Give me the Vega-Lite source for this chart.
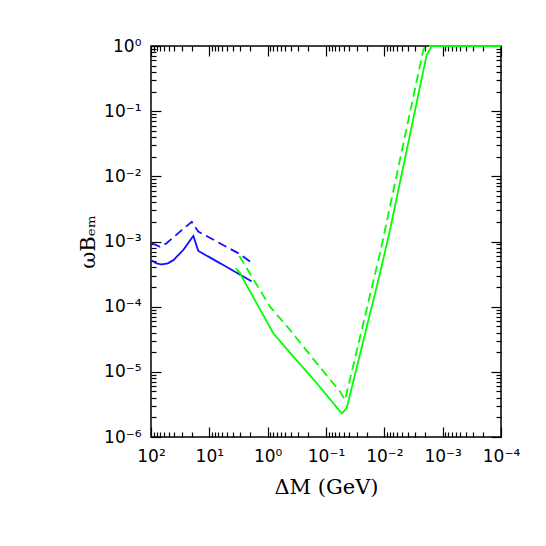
{
  "$schema": "https://vega.github.io/schema/vega-lite/v6.json",
  "autosize": "none",
  "width": 350,
  "height": 391,
  "padding": {"left": 151, "top": 46, "right": 45, "bottom": 109},
  "background": "white",
  "data": {
    "values": [
      {"curve": "bs", "grp": "blue", "dash": "solid", "dm": 97, "wb": 0.00051},
      {"curve": "bs", "grp": "blue", "dash": "solid", "dm": 80, "wb": 0.00046},
      {"curve": "bs", "grp": "blue", "dash": "solid", "dm": 66, "wb": 0.000445},
      {"curve": "bs", "grp": "blue", "dash": "solid", "dm": 52, "wb": 0.00046},
      {"curve": "bs", "grp": "blue", "dash": "solid", "dm": 41, "wb": 0.00052},
      {"curve": "bs", "grp": "blue", "dash": "solid", "dm": 28, "wb": 0.00074},
      {"curve": "bs", "grp": "blue", "dash": "solid", "dm": 18.8, "wb": 0.00122},
      {"curve": "bs", "grp": "blue", "dash": "solid", "dm": 15.5, "wb": 0.00072},
      {"curve": "bs", "grp": "blue", "dash": "solid", "dm": 1.88, "wb": 0.000245},
      {"curve": "bd", "grp": "blue", "dash": "dashed", "dm": 97, "wb": 0.00094},
      {"curve": "bd", "grp": "blue", "dash": "dashed", "dm": 70, "wb": 0.00083},
      {"curve": "bd", "grp": "blue", "dash": "dashed", "dm": 54, "wb": 0.00094},
      {"curve": "bd", "grp": "blue", "dash": "dashed", "dm": 31.8, "wb": 0.00142},
      {"curve": "bd", "grp": "blue", "dash": "dashed", "dm": 20, "wb": 0.002},
      {"curve": "bd", "grp": "blue", "dash": "dashed", "dm": 15.5, "wb": 0.00142},
      {"curve": "bd", "grp": "blue", "dash": "dashed", "dm": 2.98, "wb": 0.00064},
      {"curve": "bd", "grp": "blue", "dash": "dashed", "dm": 2.0, "wb": 0.00049},
      {"curve": "gs", "grp": "green", "dash": "solid", "dm": 3.49, "wb": 0.00039},
      {"curve": "gs", "grp": "green", "dash": "solid", "dm": 2.98, "wb": 0.000325},
      {"curve": "gs", "grp": "green", "dash": "solid", "dm": 0.8, "wb": 0.000039},
      {"curve": "gs", "grp": "green", "dash": "solid", "dm": 0.363, "wb": 0.0000171},
      {"curve": "gs", "grp": "green", "dash": "solid", "dm": 0.144, "wb": 0.0000067},
      {"curve": "gs", "grp": "green", "dash": "solid", "dm": 0.0538, "wb": 0.0000023},
      {"curve": "gs", "grp": "green", "dash": "solid", "dm": 0.0442, "wb": 0.00000276},
      {"curve": "gs", "grp": "green", "dash": "solid", "dm": 0.01187, "wb": 0.000325},
      {"curve": "gs", "grp": "green", "dash": "solid", "dm": 0.008, "wb": 0.0015},
      {"curve": "gs", "grp": "green", "dash": "solid", "dm": 0.00188, "wb": 0.73},
      {"curve": "gs", "grp": "green", "dash": "solid", "dm": 0.00154, "wb": 1},
      {"curve": "gs", "grp": "green", "dash": "solid", "dm": 0.0001, "wb": 1},
      {"curve": "gd", "grp": "green", "dash": "dashed", "dm": 3.06, "wb": 0.0006},
      {"curve": "gd", "grp": "green", "dash": "dashed", "dm": 0.912, "wb": 0.0001},
      {"curve": "gd", "grp": "green", "dash": "dashed", "dm": 0.414, "wb": 0.000044},
      {"curve": "gd", "grp": "green", "dash": "dashed", "dm": 0.144, "wb": 0.0000135},
      {"curve": "gd", "grp": "green", "dash": "dashed", "dm": 0.0575, "wb": 0.000005},
      {"curve": "gd", "grp": "green", "dash": "dashed", "dm": 0.0472, "wb": 0.0000037},
      {"curve": "gd", "grp": "green", "dash": "dashed", "dm": 0.01187, "wb": 0.00066},
      {"curve": "gd", "grp": "green", "dash": "dashed", "dm": 0.00975, "wb": 0.0015},
      {"curve": "gd", "grp": "green", "dash": "dashed", "dm": 0.00215, "wb": 0.87},
      {"curve": "gd", "grp": "green", "dash": "dashed", "dm": 0.00201, "wb": 1},
      {"curve": "gd", "grp": "green", "dash": "dashed", "dm": 0.0001, "wb": 1}
    ]
  },
  "layer": [
    {
      "mark": {"type": "line", "opacity": 0},
      "encoding": {
        "x": {"field": "dm", "type": "quantitative",
          "scale": {"type": "log", "domain": [0.0001, 100], "reverse": true, "nice": false},
          "axis": {"orient": "top", "labels": false, "title": null,
            "values": [100,90,80,70,60,50,40,30,20,10,9,8,7,6,5,4,3,2,1,0.9,0.8,0.7,0.6,0.5,0.4,0.3,0.2,0.1,0.09,0.08,0.07,0.06,0.05,0.04,0.03,0.02,0.01,0.009,0.008,0.007,0.006,0.005,0.004,0.003,0.002,0.001,0.0009,0.0008,0.0007,0.0006,0.0005,0.0004,0.0003,0.0002,0.0001],
            "tickSize": {"condition": {"test": "abs(log(datum.value)/LN10 - round(log(datum.value)/LN10)) < 0.01", "value": -10}, "value": -5}}},
        "y": {"field": "wb", "type": "quantitative",
          "scale": {"type": "log", "domain": [0.000001, 1], "nice": false},
          "axis": {"orient": "right", "labels": false, "title": null,
            "values": [1,0.9,0.8,0.7,0.6,0.5,0.4,0.3,0.2,0.1,0.09,0.08,0.07,0.06,0.05,0.04,0.03,0.02,0.01,0.009,0.008,0.007,0.006,0.005,0.004,0.003,0.002,0.001,0.0009,0.0008,0.0007,0.0006,0.0005,0.0004,0.0003,0.0002,0.0001,0.00009,0.00008,0.00007,0.00006,0.00005,0.00004,0.00003,0.00002,0.00001,0.000009,0.000008,0.000007,0.000006,0.000005,0.000004,0.000003,0.000002,0.000001],
            "tickSize": {"condition": {"test": "abs(log(datum.value)/LN10 - round(log(datum.value)/LN10)) < 0.01", "value": -10}, "value": -5}}},
        "detail": {"field": "curve"}
      }
    },
    {
      "mark": {"type": "line", "strokeWidth": 1.8, "clip": false},
      "encoding": {
        "x": {"field": "dm", "type": "quantitative",
          "scale": {"type": "log", "domain": [0.0001, 100], "reverse": true, "nice": false},
          "axis": {"orient": "bottom", "title": "ΔM  (GeV)",
            "values": [100,90,80,70,60,50,40,30,20,10,9,8,7,6,5,4,3,2,1,0.9,0.8,0.7,0.6,0.5,0.4,0.3,0.2,0.1,0.09,0.08,0.07,0.06,0.05,0.04,0.03,0.02,0.01,0.009,0.008,0.007,0.006,0.005,0.004,0.003,0.002,0.001,0.0009,0.0008,0.0007,0.0006,0.0005,0.0004,0.0003,0.0002,0.0001],
            "tickSize": {"condition": {"test": "abs(log(datum.value)/LN10 - round(log(datum.value)/LN10)) < 0.01", "value": -10}, "value": -5},
            "labelExpr": "(abs(log(datum.value)/LN10 - round(log(datum.value)/LN10)) < 0.01) ? ('10' + (round(log(datum.value)/LN10) < 0 ? '⁻' : '') + substring('⁰¹²³⁴⁵⁶⁷⁸⁹', abs(round(log(datum.value)/LN10)), abs(round(log(datum.value)/LN10)) + 1)) : ''",
            "labelPadding": 21, "titlePadding": 7}},
        "y": {"field": "wb", "type": "quantitative",
          "scale": {"type": "log", "domain": [0.000001, 1], "nice": false},
          "axis": {"orient": "left", "title": "ωBₑₘ",
            "values": [1,0.9,0.8,0.7,0.6,0.5,0.4,0.3,0.2,0.1,0.09,0.08,0.07,0.06,0.05,0.04,0.03,0.02,0.01,0.009,0.008,0.007,0.006,0.005,0.004,0.003,0.002,0.001,0.0009,0.0008,0.0007,0.0006,0.0005,0.0004,0.0003,0.0002,0.0001,0.00009,0.00008,0.00007,0.00006,0.00005,0.00004,0.00003,0.00002,0.00001,0.000009,0.000008,0.000007,0.000006,0.000005,0.000004,0.000003,0.000002,0.000001],
            "tickSize": {"condition": {"test": "abs(log(datum.value)/LN10 - round(log(datum.value)/LN10)) < 0.01", "value": -10}, "value": -5},
            "labelExpr": "(abs(log(datum.value)/LN10 - round(log(datum.value)/LN10)) < 0.01) ? ('10' + (round(log(datum.value)/LN10) < 0 ? '⁻' : '') + substring('⁰¹²³⁴⁵⁶⁷⁸⁹', abs(round(log(datum.value)/LN10)), abs(round(log(datum.value)/LN10)) + 1)) : ''",
            "labelPadding": 20, "titlePadding": 5}},
        "color": {"field": "grp", "type": "nominal", "scale": {"domain": ["blue", "green"], "range": ["#1010ff", "#00ff00"]}, "legend": null},
        "strokeDash": {"field": "dash", "type": "nominal", "scale": {"domain": ["solid", "dashed"], "range": [[1, 0], [9, 5]]}, "legend": null},
        "detail": {"field": "curve"}
      }
    }
  ],
  "resolve": {"axis": {"x": "independent", "y": "independent"}},
  "config": {
    "view": {"stroke": "black", "strokeWidth": 1.5},
    "axis": {
      "domain": false,
      "grid": false,
      "tickColor": "black",
      "tickWidth": 1.2,
      "labelFont": "DejaVu Sans",
      "labelFontSize": 17,
      "labelColor": "black",
      "labelOverlap": false,
      "labelFlush": false,
      "labelBound": false,
      "titleFont": "DejaVu Serif",
      "titleFontSize": 21,
      "titleFontWeight": "normal",
      "titleColor": "black"
    }
  }
}
